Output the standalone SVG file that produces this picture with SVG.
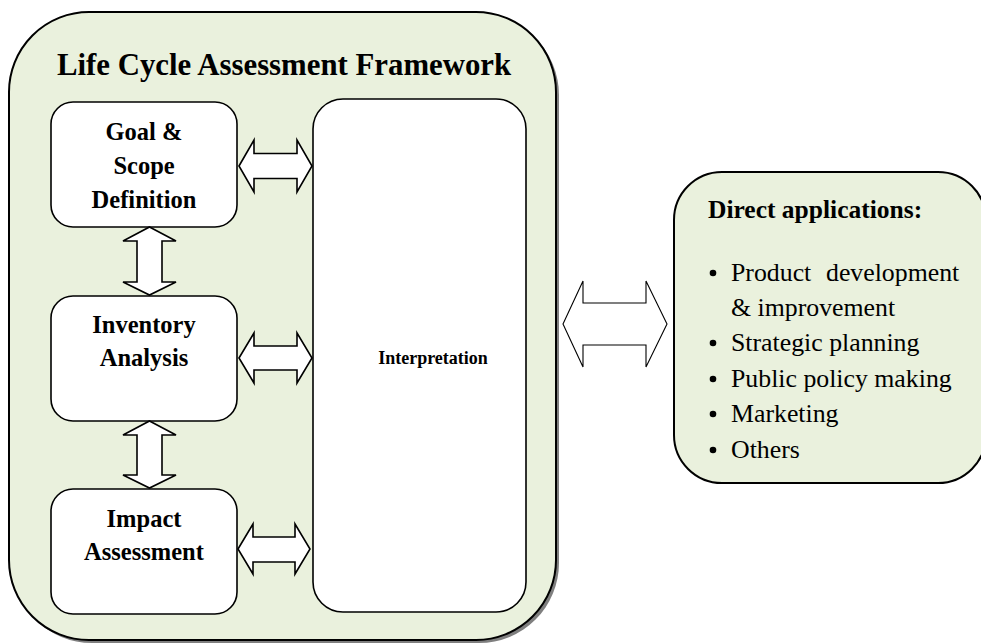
<svg xmlns="http://www.w3.org/2000/svg" width="981" height="644" viewBox="0 0 981 644">
<style>
.frame{fill:#EAF1DD;stroke:#000;stroke-width:2}
.shadow{fill:#7f7f7f;stroke:none}
.box{fill:#fff;stroke:#000;stroke-width:1.6}
.arr{fill:#fff;stroke:#000;stroke-width:1.6;stroke-linejoin:miter}
.arr2{fill:#fff;stroke:#000;stroke-width:1.1}
.t{font-family:"Liberation Serif","Times New Roman",serif;fill:#000}
.b{font-weight:bold}
</style>
<rect width="981" height="644" fill="#fff"/>
<g id="lca-frame">
<rect class="shadow" x="12" y="15" width="547" height="628" rx="80"/>
<rect class="frame" x="9" y="12" width="547" height="628" rx="80"/>
<text class="t b" x="57" y="75" font-size="30.8">Life Cycle Assessment Framework</text>
</g>
<g id="goal">
<rect class="box" x="51" y="102" width="186" height="125" rx="22"/>
<text class="t b" x="144" y="140" font-size="24.5" text-anchor="middle">Goal &amp;</text>
<text class="t b" x="144" y="174" font-size="24.5" text-anchor="middle">Scope</text>
<text class="t b" x="144" y="208" font-size="24.5" text-anchor="middle">Definition</text>
</g>
<g id="inventory">
<rect class="box" x="51" y="296" width="186" height="125" rx="22"/>
<text class="t b" x="144" y="333" font-size="24.5" text-anchor="middle">Inventory</text>
<text class="t b" x="144" y="366" font-size="24.5" text-anchor="middle">Analysis</text>
</g>
<g id="impact">
<rect class="box" x="51" y="489" width="186" height="125" rx="22"/>
<text class="t b" x="144" y="527" font-size="24.5" text-anchor="middle">Impact</text>
<text class="t b" x="144" y="560" font-size="24.5" text-anchor="middle">Assessment</text>
</g>
<g id="interpretation">
<rect class="box" x="313" y="99" width="213" height="513" rx="30"/>
<text class="t b" x="433" y="364" font-size="18" text-anchor="middle">Interpretation</text>
</g>
<g id="applications">
<rect class="frame" x="674" y="172" width="312" height="311" rx="48"/>
<text class="t b" x="708" y="218" font-size="25.5">Direct applications:</text>
<g class="t" font-size="25.8">
<circle cx="713" cy="273" r="3.3"/>
<text x="731" y="281">Product <tspan x="826">development</tspan></text>
<text x="731" y="316">&amp; improvement</text>
<circle cx="713" cy="343" r="3.3"/>
<text x="731" y="351">Strategic planning</text>
<circle cx="713" cy="379" r="3.3"/>
<text x="731" y="387">Public policy making</text>
<circle cx="713" cy="414" r="3.3"/>
<text x="731" y="422">Marketing</text>
<circle cx="713" cy="450" r="3.3"/>
<text x="731" y="458">Others</text>
</g>
</g>
<g id="connectors">
<polygon class="arr" points="239,166 254,140 254,153.5 297,153.5 297,140 312,166 297,192 297,178.5 254,178.5 254,192"/>
<polygon class="arr" points="239,358 254,333 254,346 297,346 297,333 312,358 297,383 297,370 254,370 254,383"/>
<polygon class="arr" points="238,549 253,524 253,537 295,537 295,524 310,549 295,574 295,562 253,562 253,574"/>
<polygon class="arr" points="149.5,227 176,241 162,241 162,282 176,282 149.5,295 123,282 137,282 137,241 123,241"/>
<polygon class="arr" points="149.5,421 176,435 162,435 162,475 176,475 149.5,488 123,475 137,475 137,435 123,435"/>
<polygon class="arr2" points="563,324 583,281 583,303 646,303 646,281 667,324 646,367 646,345 583,345 583,367"/>
</g>
</svg>
